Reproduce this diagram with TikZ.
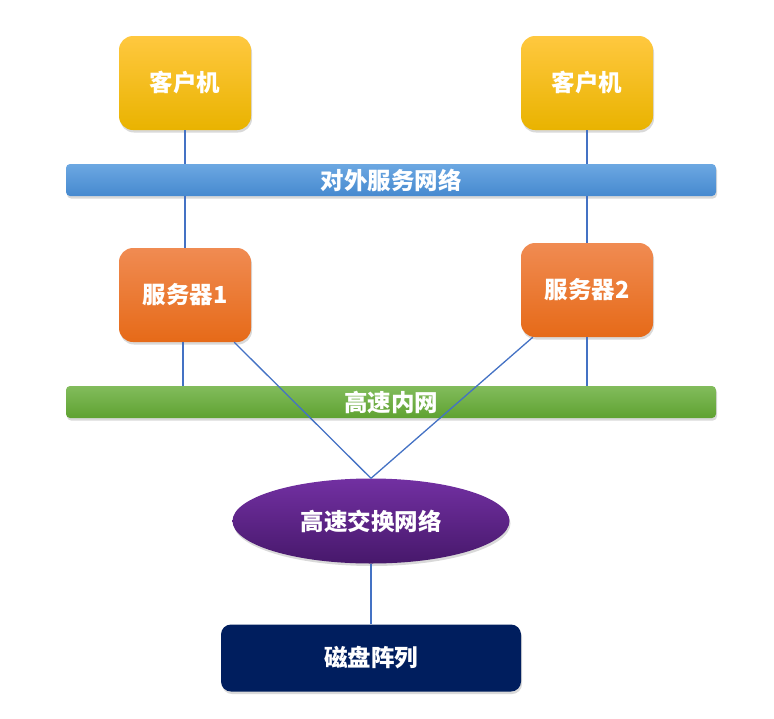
\documentclass[tikz,border=0pt]{standalone}
\usepackage{fontspec}
\setmainfont{Noto Sans CJK SC}
\usetikzlibrary{shapes.geometric,shadows}

\definecolor{linkblue}{HTML}{4472C4}
\definecolor{clienttop}{HTML}{FFC83F}
\definecolor{clientbot}{HTML}{E9B300}
\definecolor{servertop}{HTML}{F08B52}
\definecolor{serverbot}{HTML}{E66A18}
\definecolor{outtop}{HTML}{6CA8E2}
\definecolor{outbot}{HTML}{4689CF}
\definecolor{intop}{HTML}{82BC5C}
\definecolor{inbot}{HTML}{5FA231}
\definecolor{swtop}{HTML}{7230A2}
\definecolor{swbot}{HTML}{47186B}
\definecolor{disk}{HTML}{001E5E}

\tikzstyle{base} = [text=white, font=\fontsize{23.5}{28}\selectfont\bfseries, inner sep=0pt,
  drop shadow={shadow xshift=1pt, shadow yshift=-2.5pt, opacity=0.3}]
\tikzstyle{host} = [base, rounded corners=14pt, minimum width=132pt, minimum height=94pt]
\tikzstyle{client} = [host, top color=clienttop, bottom color=clientbot]
\tikzstyle{server} = [host, top color=servertop, bottom color=serverbot]
\tikzstyle{bar} = [base, rounded corners=4pt, minimum width=650pt, minimum height=32pt]
\tikzstyle{link} = [draw=linkblue, line width=1.3pt]

\begin{document}
\begin{tikzpicture}[x=1pt,y=-1pt]
\useasboundingbox (0,0) rectangle (774,718);

\node[client] (client1) at (185,83) {客户机};
\node[client] (client2) at (587,83) {客户机};
\node[bar, top color=outtop, bottom color=outbot] (outnet) at (391,180) {对外服务网络};
\node[server] (server1) at (185,295) {服务器1};
\node[server] (server2) at (587,290) {服务器2};
\node[bar, top color=intop, bottom color=inbot] (innet) at (391,402) {高速内网};
\node[base, ellipse, minimum width=277pt, minimum height=85pt,
  top color=swtop, bottom color=swbot] (switch) at (371,521) {高速交换网络};
\node[base, rounded corners=10pt, minimum width=300pt, minimum height=67pt,
  fill=disk] (diskarray) at (371,658) {磁盘阵列};

\draw[link] (client1.south) -- (client1.south |- outnet.north);
\draw[link] (client2.south) -- (client2.south |- outnet.north);
\draw[link] (server1.north |- outnet.south) -- (server1.north);
\draw[link] (server2.north |- outnet.south) -- (server2.north);
\draw[link] ([xshift=-2pt]server1.south) -- ([xshift=-2pt]server1.south |- innet.north);
\draw[link] (server2.south) -- (server2.south |- innet.north);
\draw[link] ([xshift=-17pt]server1.south east) -- (switch.north);
\draw[link] ([xshift=12pt]server2.south west) -- (switch.north);
\draw[link] (switch.south) -- (diskarray.north);
\end{tikzpicture}
\end{document}
